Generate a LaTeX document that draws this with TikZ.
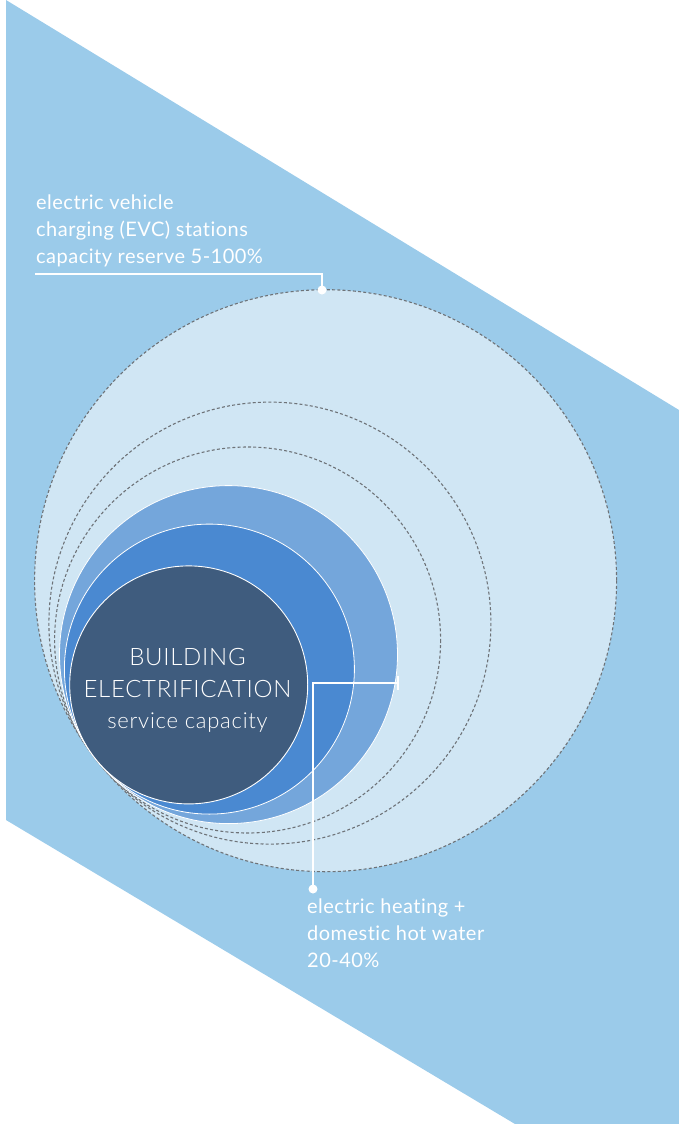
\documentclass[tikz,border=0pt]{standalone}
\usepackage{fontspec}
\setmainfont{Lato Light}[Ligatures={NoCommon,NoRare}]
\newfontfamily\labelfont{Lato}[Ligatures={NoCommon,NoRare}]
\definecolor{skyband}{HTML}{9BCBEA}
\definecolor{reservefill}{HTML}{D0E6F4}
\definecolor{heatmid}{HTML}{74A6DB}
\definecolor{heatblue}{HTML}{4A89D1}
\definecolor{corenavy}{HTML}{3F5C7E}
\definecolor{dashgray}{HTML}{6E7378}
\tikzset{
  dashring/.style={draw=dashgray, line width=1.1pt, dash pattern=on 3pt off 2.2pt},
  fillring/.style={draw=white, line width=0.8pt},
  leader/.style={draw=white, line width=2.6pt},
  labeltext/.style={text=white, inner sep=0pt, align=left,
    font=\labelfont\fontsize{20}{26.8}\selectfont\addfontfeature{LetterSpace=2.4}},
  coretext/.style={text=white, inner sep=0pt, anchor=base},
}
\begin{document}
\begin{tikzpicture}[x=1pt, y=-1pt]
  \useasboundingbox (0,0) rectangle (679,1124);
  % slanted background band
  \fill[skyband] (6,0) -- (679,410) -- (679,1124) -- (515,1124) -- (6,820) -- cycle;

  % capacity rings, all touching at one point on the lower left
  \filldraw[fill=reservefill, dashring] (325.6,580.7) circle[radius=291];
  \draw[dashring] (269.9,623.1) circle[radius=221];
  \draw[dashring] (247.6,640.0) circle[radius=193];
  \filldraw[fill=heatmid, fillring] (228.5,654.6) circle[radius=169];
  \filldraw[fill=heatblue, fillring] (209.4,669.1) circle[radius=145];
  \node[circle, fill=corenavy, draw=white, line width=0.9pt, minimum size=238pt, inner sep=0pt]
    (core) at (188.7,684.9) {};

  % core text
  \node[coretext, font=\fontsize{24}{28}\selectfont\addfontfeature{LetterSpace=3}] (t1) at (187.5,665) {BUILDING};
  \node[coretext, font=\fontsize{24}{28}\selectfont\addfontfeature{LetterSpace=3}] (t2) at (187.5,697) {ELECTRIFICATION};
  \node[coretext, font=\fontsize{22}{26}\selectfont\addfontfeature{LetterSpace=3.4}] (t3) at (187.5,728) {service capacity};

  % EVC reserve label and leader
  \node[labeltext, anchor=north west] (evc) at (36,195)
    {electric vehicle\\charging (EVC) stations\\capacity reserve 5-100\%};
  \coordinate (evcstart) at (35,274);
  \coordinate (evcbend) at (322,274);
  \coordinate (evcdot) at (322,290);
  \draw[leader] (evcstart) -- (evcbend) -- (evcdot);
  \fill[white] (evcdot) circle[radius=4.5];

  % heating label and leader
  \node[labeltext, anchor=north west] (heat) at (307,899)
    {electric heating +\\domestic hot water\\20-40\%};
  \coordinate (heattick) at (398,683);
  \coordinate (heatbend) at (313,683);
  \coordinate (heatdot) at (313,889);
  \draw[leader] (heattick) -- (heatbend) -- (heatdot);
  \draw[white, line width=2.6pt] ([yshift=-7]heattick) -- ([yshift=7]heattick);
  \fill[white] (heatdot) circle[radius=4.5];
\end{tikzpicture}
\end{document}
